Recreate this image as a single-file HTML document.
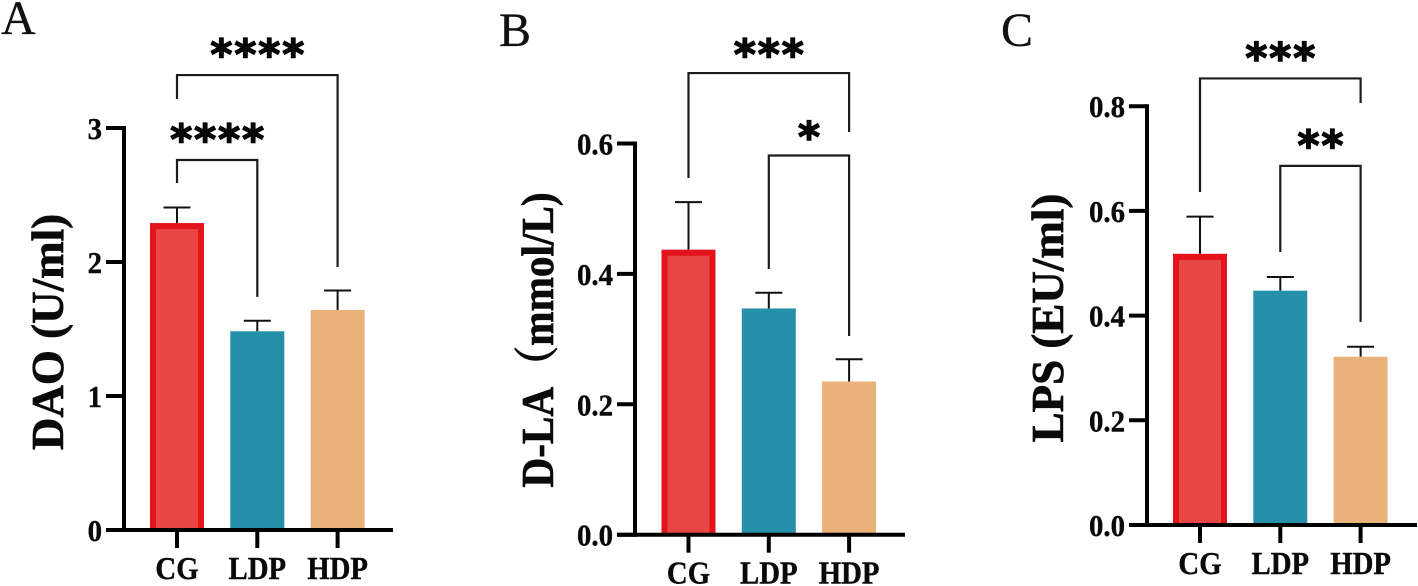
<!DOCTYPE html>
<html>
<head>
<meta charset="utf-8">
<title>DAO, D-LA and LPS bar charts</title>
<style>
html,body{margin:0;padding:0;background:#fff;}
svg{display:block;}
text{font-family:"Liberation Serif","Noto Serif CJK SC",serif;fill:#0a0a0a;}
.tick{font-weight:bold;font-size:31px;stroke:#0a0a0a;stroke-width:.4px;}
.cat{font-weight:bold;font-size:32px;stroke:#0a0a0a;stroke-width:.4px;}
.title{font-weight:bold;font-size:45px;stroke:#0a0a0a;stroke-width:.7px;}
.letter{font-size:48px;fill:#111;stroke:#111;stroke-width:.3px;}
.stars{font-family:"DejaVu Sans",sans-serif;font-weight:bold;font-size:42px;letter-spacing:2px;stroke:#000;stroke-width:1.4px;}
</style>
</head>
<body>
<svg id="chart" width="1418" height="586" viewBox="0 0 1418 586" xmlns="http://www.w3.org/2000/svg"></svg>
<script>
const categories = ['CG', 'LDP', 'HDP'];

const daoMeans = [2.29, 1.483, 1.642];
const daoErrors = [2.407, 1.562, 1.787];
const daoTicks = [0, 1, 2, 3];
const daoTickLabels = ['0', '1', '2', '3'];
const daoBrackets = [
  {from: 0, to: 2, level: 3.395, leftEnd: 3.216, rightEnd: 1.963, stars: '****'},
  {from: 0, to: 1, level: 2.761, leftEnd: 2.59, rightEnd: 1.74, stars: '****'}
];

const dlaMeans = [0.437, 0.347, 0.235];
const dlaErrors = [0.51, 0.371, 0.269];
const dlaTicks = [0, 0.2, 0.4, 0.6];
const dlaTickLabels = ['0.0', '0.2', '0.4', '0.6'];
const dlaBrackets = [
  {from: 0, to: 2, level: 0.708, leftEnd: 0.547, rightEnd: 0.6176, stars: '***'},
  {from: 1, to: 2, level: 0.5816, leftEnd: 0.4075, rightEnd: 0.3047, stars: '*'}
];

const lpsMeans = [0.518, 0.4476, 0.3215];
const lpsErrors = [0.589, 0.4737, 0.3406];
const lpsTicks = [0, 0.2, 0.4, 0.6, 0.8];
const lpsTickLabels = ['0.0', '0.2', '0.4', '0.6', '0.8'];
const lpsBrackets = [
  {from: 0, to: 2, level: 0.853, leftEnd: 0.636, rightEnd: 0.806, stars: '***'},
  {from: 1, to: 2, level: 0.686, leftEnd: 0.5215, rightEnd: 0.388, stars: '**'}
];

const svg = document.getElementById('chart');
const NS = 'http://www.w3.org/2000/svg';
const fills = ['#e84545', '#2590aa', '#e9b27a'];

function add(name, tag, attrs, text) {
  const el = document.createElementNS(NS, tag);
  for (const k in attrs) el.setAttribute(k, attrs[k]);
  
  
  if (text !== undefined) el.textContent = text;
  svg.appendChild(el);
  return el;
}

function condense(el, factor) {
  el.setAttribute('textLength', (el.getComputedTextLength() * factor).toFixed(2));
  el.setAttribute('lengthAdjust', 'spacingAndGlyphs');
}

function panel(p) {
  const y = v => p.y0 - v * p.pxPerUnit;
  const x = i => p.x0 + i * p.step;
  const slug = p.key;
  const barW = 54;
  const yTop = y(p.ticks[p.ticks.length - 1]);

  add(slug + '-panel-letter', 'text', {class: 'letter', x: p.letterX, y: p.letterY}, p.letter);
  const title = add(slug + '-y-axis-title', 'text', {
    class: 'title', 'text-anchor': 'middle',
    transform: 'translate(' + p.titleX + ',' + p.titleY + ') rotate(-90)'
  }, p.title);
  if (p.titleFactor !== 1) condense(title, p.titleFactor);

  p.means.forEach((m, i) => {
    const cx = x(i);
    add(slug + '-error-stem-' + categories[i], 'line', {x1: cx, x2: cx, y1: y(m), y2: y(p.errors[i]), stroke: '#111', 'stroke-width': 2});
    add(slug + '-error-cap-' + categories[i], 'line', {x1: cx - 13.5, x2: cx + 13.5, y1: y(p.errors[i]), y2: y(p.errors[i]), stroke: '#111', 'stroke-width': 2});
    add(slug + '-bar-' + categories[i], 'rect', {x: cx - barW / 2, y: y(m), width: barW, height: p.y0 - y(m), fill: fills[i]});
    if (i === 0) {
      const l = cx - barW / 2 + 3, r = cx + barW / 2 - 3, t = y(m) + 3;
      add(slug + '-bar-outline-' + categories[i], 'polyline', {
        points: l + ',' + p.y0 + ' ' + l + ',' + t + ' ' + r + ',' + t + ' ' + r + ',' + p.y0,
        fill: 'none', stroke: '#e3141c', 'stroke-width': 6
      });
    }
  });

  add(slug + '-y-axis-line', 'line', {x1: p.axisX, x2: p.axisX, y1: yTop - 2, y2: p.y0 + 2, stroke: '#000', 'stroke-width': 4});
  add(slug + '-x-axis-line', 'line', {x1: p.axisX - 18, x2: p.axisEnd, y1: p.y0, y2: p.y0, stroke: '#000', 'stroke-width': 4});

  p.ticks.forEach((t, i) => {
    add(slug + '-y-tick-mark', 'line', {x1: p.axisX - 18, x2: p.axisX, y1: y(t), y2: y(t), stroke: '#000', 'stroke-width': 4});
    const lbl = add(slug + '-y-tick-label', 'text', {class: 'tick', 'text-anchor': 'end', x: p.axisX - 22, y: y(t) + 11}, p.tickLabels[i]);
    condense(lbl, 0.93);
  });

  categories.forEach((c, i) => {
    add(slug + '-x-tick-mark', 'line', {x1: x(i), x2: x(i), y1: p.y0, y2: p.y0 + 18, stroke: '#000', 'stroke-width': 4});
    const lbl = add(slug + '-x-label-' + c, 'text', {class: 'cat', 'text-anchor': 'middle', x: x(i), y: p.y0 + 49}, c);
    condense(lbl, 0.9);
  });

  p.brackets.forEach((b, i) => {
    const xa = x(b.from), xb = x(b.to);
    add(slug + '-significance-bracket-' + (i + 1), 'polyline', {
      points: xa + ',' + y(b.leftEnd) + ' ' + xa + ',' + y(b.level) + ' ' + xb + ',' + y(b.level) + ' ' + xb + ',' + y(b.rightEnd),
      fill: 'none', stroke: '#1c1c1c', 'stroke-width': 2.2
    });
    add(slug + '-significance-stars-' + (i + 1), 'text', {
      class: 'stars', 'text-anchor': 'middle', x: (xa + xb) / 2 + 1, y: y(b.level) + p.starDy
    }, b.stars);
  });
}

panel({key: 'dao', letter: 'A', letterX: 1, letterY: 34, title: 'DAO (U/ml)', titleX: 63, titleY: 332, titleFactor: 1,
  means: daoMeans, errors: daoErrors, ticks: daoTicks, tickLabels: daoTickLabels, brackets: daoBrackets,
  x0: 177, step: 80.3, y0: 530, pxPerUnit: 134, axisX: 124, axisEnd: 393, starDy: -6});
panel({key: 'dla', letter: 'B', letterX: 499, letterY: 46, title: 'D-LA（mmol/L)', titleX: 553, titleY: 340, titleFactor: 0.915,
  means: dlaMeans, errors: dlaErrors, ticks: dlaTicks, tickLabels: dlaTickLabels, brackets: dlaBrackets,
  x0: 688.5, step: 80.3, y0: 534.7, pxPerUnit: 652, axisX: 635, axisEnd: 905, starDy: -4});
panel({key: 'lps', letter: 'C', letterX: 1001, letterY: 46, title: 'LPS (EU/ml)', titleX: 1063, titleY: 318, titleFactor: 1,
  means: lpsMeans, errors: lpsErrors, ticks: lpsTicks, tickLabels: lpsTickLabels, brackets: lpsBrackets,
  x0: 1200, step: 80.3, y0: 525, pxPerUnit: 523.5, axisX: 1147, axisEnd: 1417, starDy: -6});
</script>
</body>
</html>
